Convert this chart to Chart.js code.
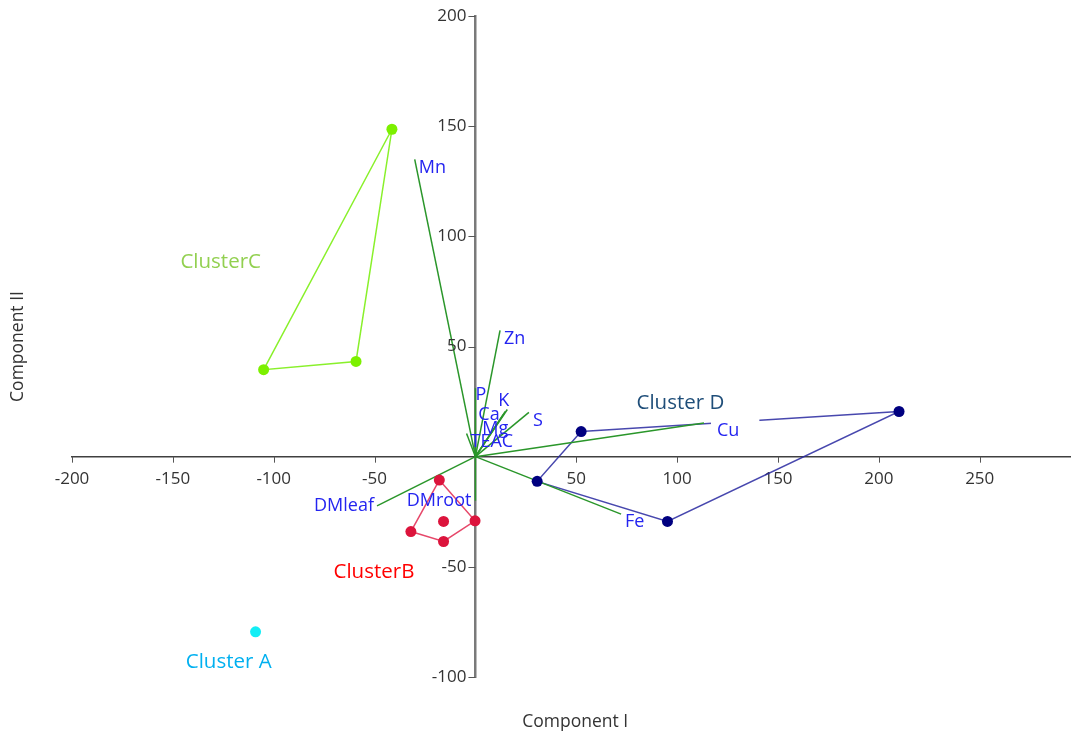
<!DOCTYPE html>
<html>
<head>
<meta charset="utf-8">
<title>Component I / Component II</title>
<script src="https://cdn.jsdelivr.net/npm/chart.js@4.4.1/dist/chart.umd.min.js"></script>
<style>
  html, body { margin: 0; padding: 0; background: #fff; }
  #wrap { width: 1076px; height: 738px; }
</style>
</head>
<body>
<div id="wrap"><canvas id="c" width="1076" height="738"></canvas></div>
<script>
// Sample scores on components I and II, one list per cluster
const clusterA = [[-109, -79.5]];
const clusterB = [[-17.9, -10.6], [-15.8, -29.4], [-0.2, -29.1], [-32, -34], [-15.8, -38.5]];
const clusterC = [[-41.4, 148.6], [-105, 39.5], [-59.2, 43.2]];
const clusterD = [[52.4, 11.4], [30.6, -11.2], [95.2, -29.4], [210, 20.5]];

// Outline order around each cluster (indices into the lists above)
const hullB = [0, 2, 4, 3, 0];
const hullC = [0, 1, 2, 0];
const hullD = [0, 3, 2, 1, 0];

// Variable loadings, drawn as vectors from the origin
const varNames = ['Mn', 'Zn', 'P', 'K', 'Ca', 'Mg', 'S', 'TEAC', 'Cu', 'Fe', 'DMleaf', 'DMroot'];
const loadX = [-30.1, 12.2, 0, 15.8, 14.8, 13.8, 26.5, -4.4, 113.3, 72.2, -48.8, 0];
const loadY = [134.9, 57.3, 31, 21.4, 20.5, 19.1, 20.1, 10.5, 15.3, -26.1, -22.3, -20];

// Axis ticks
const xTicks = [-200, -150, -100, -50, 50, 100, 150, 200, 250];
const yTicks = [-100, -50, 50, 100, 150, 200];

// ---- styling ----
const FONT = '"Open Sans", "Noto Sans", "DejaVu Sans", sans-serif';
const VEC_COLOR = '#2a962a';
const VEC_LABEL_COLOR = '#2424f0';
const TICK_COLOR = '#333333';

// Pixel offsets of each vector label from its tip
const vecLabelStyle = {
  P:      { dx: 0,   dy: 7 },
  K:      { dx: -9,  dy: -9 },
  Ca:     { dx: -27, dy: 3 },
  Mg:     { dx: -21, dy: 14 },
  Cu:     { dx: 13,  dy: 8, box: true },
  DMleaf: { dx: -3,  dy: 0, align: 'right' },
  DMroot: { dx: -4,  dy: 0, align: 'right' }
};
const vecLabelDefault = { dx: 4, dy: 8, align: 'left' };

// Cluster captions: text, colour and anchor (data units)
const clusterCaptions = [
  { text: 'Cluster A', color: '#00b0f0', at: [-122.3, -93.2] },
  { text: 'ClusterB',  color: '#ff0000', at: [-50.3, -52.3] },
  { text: 'ClusterC',  color: '#92d050', at: [-126.3, 88.2] },
  { text: 'Cluster D', color: '#1f4e79', at: [101.6, 24.5] }
];

const toPts = arr => arr.map(p => ({ x: p[0], y: p[1] }));
const toHull = (arr, order) => order.map(i => ({ x: arr[i][0], y: arr[i][1] }));

const datasets = [];

// vectors
varNames.forEach((name, i) => {
  datasets.push({
    label: name,
    data: [{ x: 0, y: 0 }, { x: loadX[i], y: loadY[i] }],
    showLine: true,
    borderColor: VEC_COLOR,
    borderWidth: 1.5,
    pointRadius: 0,
    order: 2
  });
});

// cluster outlines and points
const clusters = [
  { pts: clusterA, hull: null,  point: '#13eef5', line: null },
  { pts: clusterB, hull: hullB, point: '#dc143c', line: 'rgba(226,40,80,0.85)' },
  { pts: clusterC, hull: hullC, point: '#7cf000', line: 'rgba(124,238,20,0.9)' },
  { pts: clusterD, hull: hullD, point: '#000080', line: 'rgba(40,40,160,0.85)' }
];
clusters.forEach(c => {
  if (c.hull) {
    datasets.push({
      data: toHull(c.pts, c.hull),
      showLine: true,
      borderColor: c.line,
      borderWidth: 1.5,
      pointRadius: 0,
      order: 3
    });
  }
  datasets.push({
    data: toPts(c.pts),
    showLine: false,
    pointRadius: 5.5,
    pointBackgroundColor: c.point,
    pointBorderWidth: 0,
    order: 1
  });
});

const annotations = {
  id: 'annotations',
  afterDraw(chart) {
    const ctx = chart.ctx;
    const xs = chart.scales.x, ys = chart.scales.y;
    const ox = xs.getPixelForValue(0), oy = ys.getPixelForValue(0);
    ctx.save();

    // tick marks
    ctx.strokeStyle = '#555555';
    ctx.lineWidth = 1;
    ctx.beginPath();
    xTicks.forEach(v => {
      const px = Math.round(xs.getPixelForValue(v)) + 0.5;
      ctx.moveTo(px, oy); ctx.lineTo(px, oy + 6);
    });
    yTicks.forEach(v => {
      const py = Math.round(ys.getPixelForValue(v)) + 0.5;
      ctx.moveTo(ox - 7, py); ctx.lineTo(ox, py);
    });
    ctx.stroke();

    // y tick labels, left of the axis
    ctx.fillStyle = TICK_COLOR;
    ctx.font = '17px ' + FONT;
    ctx.textAlign = 'right';
    ctx.textBaseline = 'middle';
    yTicks.forEach(v => ctx.fillText(String(v), ox - 9, ys.getPixelForValue(v)));

    // vector labels
    ctx.font = '18px ' + FONT;
    varNames.forEach((name, i) => {
      const st = Object.assign({}, vecLabelDefault, vecLabelStyle[name] || {});
      const px = xs.getPixelForValue(loadX[i]) + st.dx;
      const py = ys.getPixelForValue(loadY[i]) + st.dy;
      ctx.textAlign = st.align;
      if (st.box) {
        const w = ctx.measureText(name).width;
        ctx.fillStyle = '#ffffff';
        ctx.fillRect(px - 6, py - 12, w + 26, 24);
      }
      ctx.fillStyle = VEC_LABEL_COLOR;
      ctx.fillText(name, px, py);
    });

    // cluster captions
    ctx.font = '20.5px ' + FONT;
    ctx.textAlign = 'center';
    clusterCaptions.forEach(c => {
      ctx.fillStyle = c.color;
      ctx.fillText(c.text, xs.getPixelForValue(c.at[0]), ys.getPixelForValue(c.at[1]));
    });

    // axis titles
    ctx.fillStyle = '#333333';
    ctx.font = '17.5px ' + FONT;
    const area = chart.chartArea;
    ctx.fillText('Component I', (area.left + area.right) / 2 + 4, 722);
    ctx.translate(18, (area.top + area.bottom) / 2);
    ctx.rotate(-Math.PI / 2);
    ctx.fillText('Component II', 0, 0);
    ctx.restore();
  }
};

new Chart(document.getElementById('c'), {
  type: 'scatter',
  data: { datasets },
  options: {
    responsive: false,
    animation: false,
    events: [],
    layout: { padding: { left: 72, right: 1, top: 16, bottom: 61 } },
    plugins: { legend: { display: false }, tooltip: { enabled: false } },
    scales: {
      x: {
        type: 'linear',
        position: { y: 0 },
        min: -200,
        max: 295,
        z: 1,
        afterBuildTicks: s => { s.ticks = xTicks.map(v => ({ value: v })); },
        grid: { display: false, drawOnChartArea: false, tickLength: 6 },
        border: { color: '#404040', width: 1.5 },
        ticks: { color: TICK_COLOR, font: { family: FONT, size: 17 }, padding: 6, maxRotation: 0, autoSkip: false }
      },
      y: {
        type: 'linear',
        position: { x: 0 },
        min: -100,
        max: 200,
        z: 1,
        afterBuildTicks: s => { s.ticks = yTicks.map(v => ({ value: v })); },
        grid: { display: false, drawOnChartArea: false },
        border: { color: '#7a7a7a', width: 2.5 },
        ticks: { display: false }
      }
    }
  },
  plugins: [annotations]
});
</script>
</body>
</html>
